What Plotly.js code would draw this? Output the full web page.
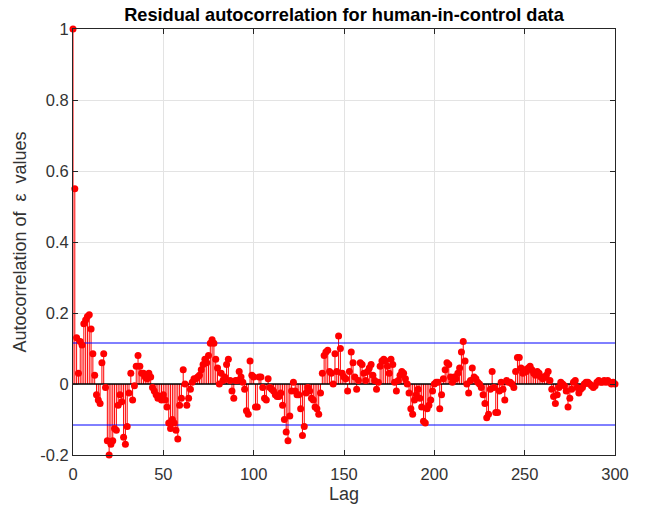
<!DOCTYPE html>
<html>
<head>
<meta charset="utf-8">
<script src="https://cdn.plot.ly/plotly-3.0.1.min.js"></script>
<style>html,body{margin:0;padding:0;background:#fff;}#chart{width:654px;height:507px;}</style>
</head>
<body>
<div id="chart"></div>
<script>
// Residual autocorrelation values, lag 0..300
const acf = [
  1.0, 0.55, 0.13, 0.03, 0.12, 0.11, 0.17, 0.18, 0.19, 0.195,
  0.155, 0.085, 0.025, -0.03, -0.045, -0.055, 0.06, 0.085, -0.01, -0.16,
  -0.2, -0.17, -0.16, -0.125, -0.13, -0.06, -0.03, -0.05, -0.15, -0.17,
  -0.12, -0.025, 0.03, -0.045, -0.005, 0.05, 0.08, 0.05, 0.03, 0.03,
  0.02, 0.015, 0.03, 0.02, -0.01, -0.02, -0.03, -0.04, -0.035, -0.045,
  -0.03, -0.045, -0.065, -0.11, -0.125, -0.1, -0.11, -0.13, -0.155, -0.06,
  -0.04, 0.04, 0.0, -0.06, -0.04, -0.015, 0.005, 0.015, 0.015, 0.02,
  0.025, 0.04, 0.055, 0.07, 0.06, 0.08, 0.115, 0.125, 0.115, 0.07,
  0.045, 0.0, 0.03, 0.01, 0.02, 0.055, 0.07, 0.01, -0.02, -0.04,
  0.01, 0.01, 0.035, 0.02, 0.005, -0.015, -0.075, -0.085, 0.065, 0.025,
  0.02, -0.065, -0.065, 0.02, 0.02, -0.01, -0.04, -0.045, 0.015, -0.01,
  -0.015, -0.02, -0.03, -0.035, -0.035, -0.025, -0.06, -0.1, -0.135, -0.16,
  -0.09, -0.02, 0.005, -0.02, -0.03, -0.03, -0.07, -0.145, -0.12, -0.025,
  -0.01, -0.02, -0.04, -0.045, -0.065, -0.07, -0.085, -0.025, 0.03, 0.08,
  0.09, 0.095, 0.035, 0.03, 0.0, 0.085, 0.035, 0.135, 0.1, 0.03,
  0.02, 0.015, -0.02, 0.035, 0.09, 0.06, 0.02, -0.015, 0.01, 0.06,
  0.055, 0.03, 0.01, 0.035, 0.045, 0.055, 0.025, 0.01, -0.015, 0.005,
  0.05, 0.065, 0.07, 0.065, 0.05, 0.03, 0.07, 0.055, 0.005, -0.02,
  0.01, 0.025, 0.035, 0.03, 0.015, 0.0, -0.025, -0.07, -0.085, -0.045,
  -0.03, -0.015, -0.04, -0.065, -0.105, -0.11, -0.07, -0.06, -0.045, -0.02,
  0.0, 0.005, 0.005, -0.07, -0.03, 0.015, 0.04, 0.06, 0.055, 0.02,
  0.005, 0.02, 0.015, 0.03, 0.045, 0.09, 0.12, 0.065, 0.0, -0.025,
  0.01, 0.045, 0.02, 0.015, 0.005, 0.0, -0.01, -0.03, -0.055, -0.095,
  -0.085, -0.015, 0.035, -0.01, -0.08, -0.08, -0.02, 0.005, -0.015, -0.045,
  0.01, 0.005, 0.005, 0.0, -0.01, 0.035, 0.075, 0.075, 0.045, 0.03,
  0.04, 0.035, 0.045, 0.05, 0.04, 0.03, 0.025, 0.035, 0.03, 0.02,
  0.015, 0.02, 0.025, 0.035, 0.01, -0.015, -0.035, -0.055, -0.03, -0.01,
  0.005, 0.0, -0.005, -0.02, -0.065, -0.04, -0.015, 0.005, 0.01, -0.01,
  -0.025, -0.015, -0.01, 0.0, 0.005, 0.005, 0.0, -0.005, -0.01, -0.005,
  0.005, 0.01, 0.005, 0.005, 0.01, 0.005, 0.01, 0.005, 0.0, 0.005,
  0.0
];
const lags = acf.map((_, i) => i);
const bound = 0.1155;              // confidence bound ±2/sqrt(N)
const xTicks = [0, 50, 100, 150, 200, 250, 300];
const yTicks = [-0.2, 0, 0.2, 0.4, 0.6, 0.8, 1];
const yTickText = ['-0.2', '0', '0.2', '0.4', '0.6', '0.8', '1'];

// stems
const sx = [], sy = [];
lags.forEach((l, i) => { sx.push(l, l, null); sy.push(0, acf[i], null); });

const xFirst = lags[0], xLast = lags[lags.length - 1];
const FONT = 'Liberation Sans, Arial, Helvetica, sans-serif';
const AX = '#262626';
const LBL = '#333333';

const traces = [
  { x: sx, y: sy, mode: 'lines', line: { color: '#ff0000', width: 1 }, hoverinfo: 'skip', showlegend: false },
  { x: [xFirst, xLast], y: [0, 0], mode: 'lines', line: { color: '#000000', width: 1.5 }, showlegend: false },
  { x: [xFirst, xLast], y: [bound, bound], mode: 'lines', line: { color: '#0000ff', width: 1 }, showlegend: false },
  { x: [xFirst, xLast], y: [-bound, -bound], mode: 'lines', line: { color: '#0000ff', width: 1 }, showlegend: false },
  { x: lags, y: acf, mode: 'markers', marker: { color: '#ff0000', size: 7 }, cliponaxis: false, showlegend: false }
];

const axisCommon = {
  showline: true, linecolor: AX, linewidth: 1, mirror: 'ticks',
  ticks: 'inside', ticklen: 5, tickcolor: AX, tickwidth: 1,
  showgrid: true, gridcolor: '#e3e3e3', gridwidth: 1, zeroline: false,
  tickfont: { family: FONT, size: 16.5, color: LBL }
};

const layout = {
  width: 654, height: 507,
  margin: { l: 73, r: 39, t: 29, b: 52 },
  paper_bgcolor: '#ffffff', plot_bgcolor: '#ffffff',
  showlegend: false,
  title: {
    text: 'Residual autocorrelation for human-in-control data',
    font: { family: FONT, size: 18.2, color: '#000000', weight: 'bold' },
    x: 0.5, xref: 'paper', xanchor: 'center',
    y: 1 - 15 / 507, yref: 'container', yanchor: 'middle'
  },
  xaxis: Object.assign({}, axisCommon, {
    range: [xFirst, xLast], tickvals: xTicks, ticklabelstandoff: 4,
    title: { text: 'Lag', font: { family: FONT, size: 18, color: LBL }, standoff: 5 }
  }),
  yaxis: Object.assign({}, axisCommon, {
    range: [-0.2, 1], tickvals: yTicks, ticktext: yTickText,
    title: { text: 'Autocorrelation of\u00a0\u00a0ε\u00a0\u00a0values', font: { family: FONT, size: 18, color: LBL }, standoff: 8 }
  })
};

Plotly.newPlot('chart', traces, layout, { displayModeBar: false, staticPlot: true });
</script>
</body>
</html>
